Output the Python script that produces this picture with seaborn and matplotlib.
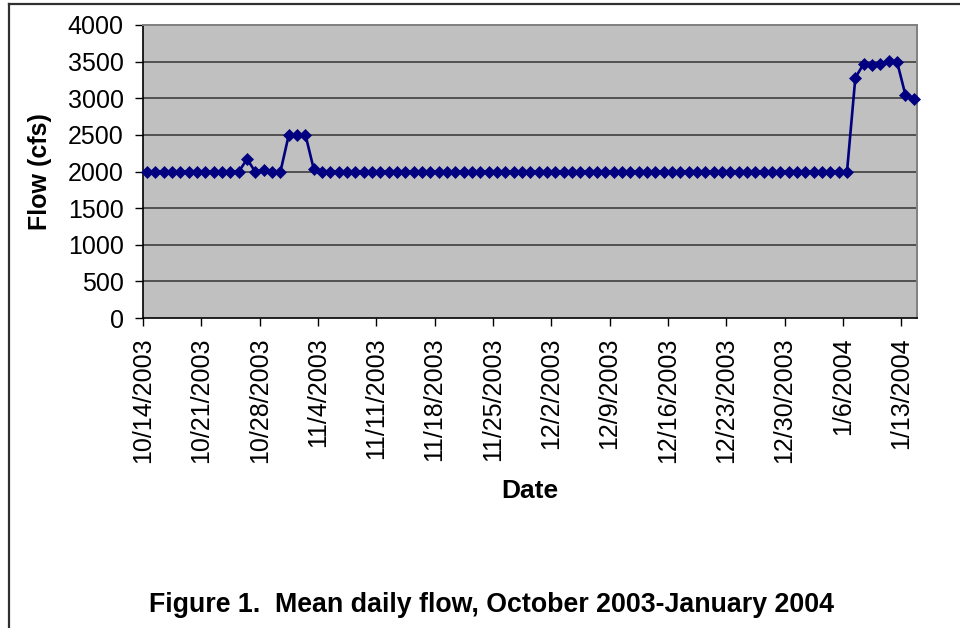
import numpy as np
import pandas as pd
import matplotlib
matplotlib.use("Agg")
import matplotlib.pyplot as plt
from matplotlib.lines import Line2D
import seaborn as sns

# ---------------- data ----------------
start_date = "2003-10-14"
flow_cfs = [
    2000, 2000, 2000, 2000, 2000, 2000, 2000, 2000, 2000, 2000, 2000, 2000,  # 10/14-10/25
    2170, 1990, 2020, 2000, 2000,                                            # 10/26-10/30
    2500, 2500, 2500,                                                        # 10/31-11/2
    2030,                                                                    # 11/3
    2000, 2000, 2000, 2000, 2000, 2000, 2000, 2000, 2000, 2000,
    2000, 2000, 2000, 2000, 2000, 2000, 2000, 2000, 2000, 2000,
    2000, 2000, 2000, 2000, 2000, 2000, 2000, 2000, 2000, 2000,
    2000, 2000, 2000, 2000, 2000, 2000, 2000, 2000, 2000, 2000,
    2000, 2000, 2000, 2000, 2000, 2000, 2000, 2000, 2000, 2000,
    2000, 2000, 2000, 2000, 2000, 2000, 2000, 2000, 2000, 2000,
    2000, 2000, 2000, 2000,                                                  # 11/4-1/6
    3280, 3470, 3460, 3470, 3510, 3500,                                      # 1/7-1/12
    3050, 2990,                                                              # 1/13-1/14
]
tick_labels = ["10/14/2003", "10/21/2003", "10/28/2003", "11/4/2003", "11/11/2003",
               "11/18/2003", "11/25/2003", "12/2/2003", "12/9/2003", "12/16/2003",
               "12/23/2003", "12/30/2003", "1/6/2004", "1/13/2004"]
y_ticks = [0, 500, 1000, 1500, 2000, 2500, 3000, 3500, 4000]

dates = pd.date_range(start_date, periods=len(flow_cfs), freq="D")
df = pd.DataFrame({"Date": dates + pd.Timedelta(hours=12), "Flow": flow_cfs})
tick_dates = pd.to_datetime(tick_labels, format="%m/%d/%Y")

# ---------------- figure ----------------
plt.rcParams["font.family"] = ["Liberation Sans", "DejaVu Sans"]
W, H = 960, 628
fig = plt.figure(figsize=(W / 100, H / 100), dpi=100)
fig.patch.set_facecolor("white")

L, R, T, B = 143, 917, 25, 318
ax = fig.add_axes([L / W, 1 - B / H, (R - L) / W, (B - T) / H])
ax.set_facecolor("#c0c0c0")

sns.lineplot(data=df, x="Date", y="Flow", ax=ax, color="#000080", linewidth=1.9,
             marker="D", markersize=6.4, markeredgecolor="#000080",
             markerfacecolor="#000080", markeredgewidth=0.5, clip_on=False, zorder=3)

ax.set_xlim(pd.Timestamp(start_date), pd.Timestamp(start_date) + pd.Timedelta(days=92.9))
ax.set_ylim(0, 4000)
ax.set_yticks(y_ticks)
ax.set_yticklabels([str(v) for v in y_ticks])
ax.set_xticks(tick_dates)
ax.set_xticklabels(tick_labels, rotation=90, va="top", ha="center")

for v in y_ticks[1:-1]:
    ax.axhline(v, color="#333333", linewidth=1.1, zorder=0.5)

ax.tick_params(axis="both", direction="out", length=6, width=1, color="black",
               labelsize=18, pad=8, labelcolor="black")
ax.set_xlabel("")
ax.set_ylabel("")

for s in ["left", "bottom"]:
    ax.spines[s].set_color("black")
    ax.spines[s].set_linewidth(1.2)
for s in ["top", "right"]:
    ax.spines[s].set_color("#808080")
    ax.spines[s].set_linewidth(1.4)

fig.text(40 / W, 1 - 171.5 / H, "Flow (cfs)", rotation=90, ha="center", va="center",
         fontsize=18, fontweight="bold")
fig.text(530 / W, 1 - 491 / H, "Date", ha="center", va="center",
         fontsize=19, fontweight="bold")
fig.text(492 / W, 1 - 605 / H, "Figure 1.  Mean daily flow, October 2003-January 2004",
         ha="center", va="center", fontsize=19.3, fontweight="bold")

# outer frame (top and left edges visible)
fig.add_artist(Line2D([8.5 / W, 1.0], [1 - 3.5 / H, 1 - 3.5 / H], color="#303030",
                      linewidth=1.6, transform=fig.transFigure))
fig.add_artist(Line2D([8.5 / W, 8.5 / W], [0, 1 - 3.5 / H], color="#303030",
                      linewidth=1.6, transform=fig.transFigure))

fig.savefig("out.png", dpi=100)
